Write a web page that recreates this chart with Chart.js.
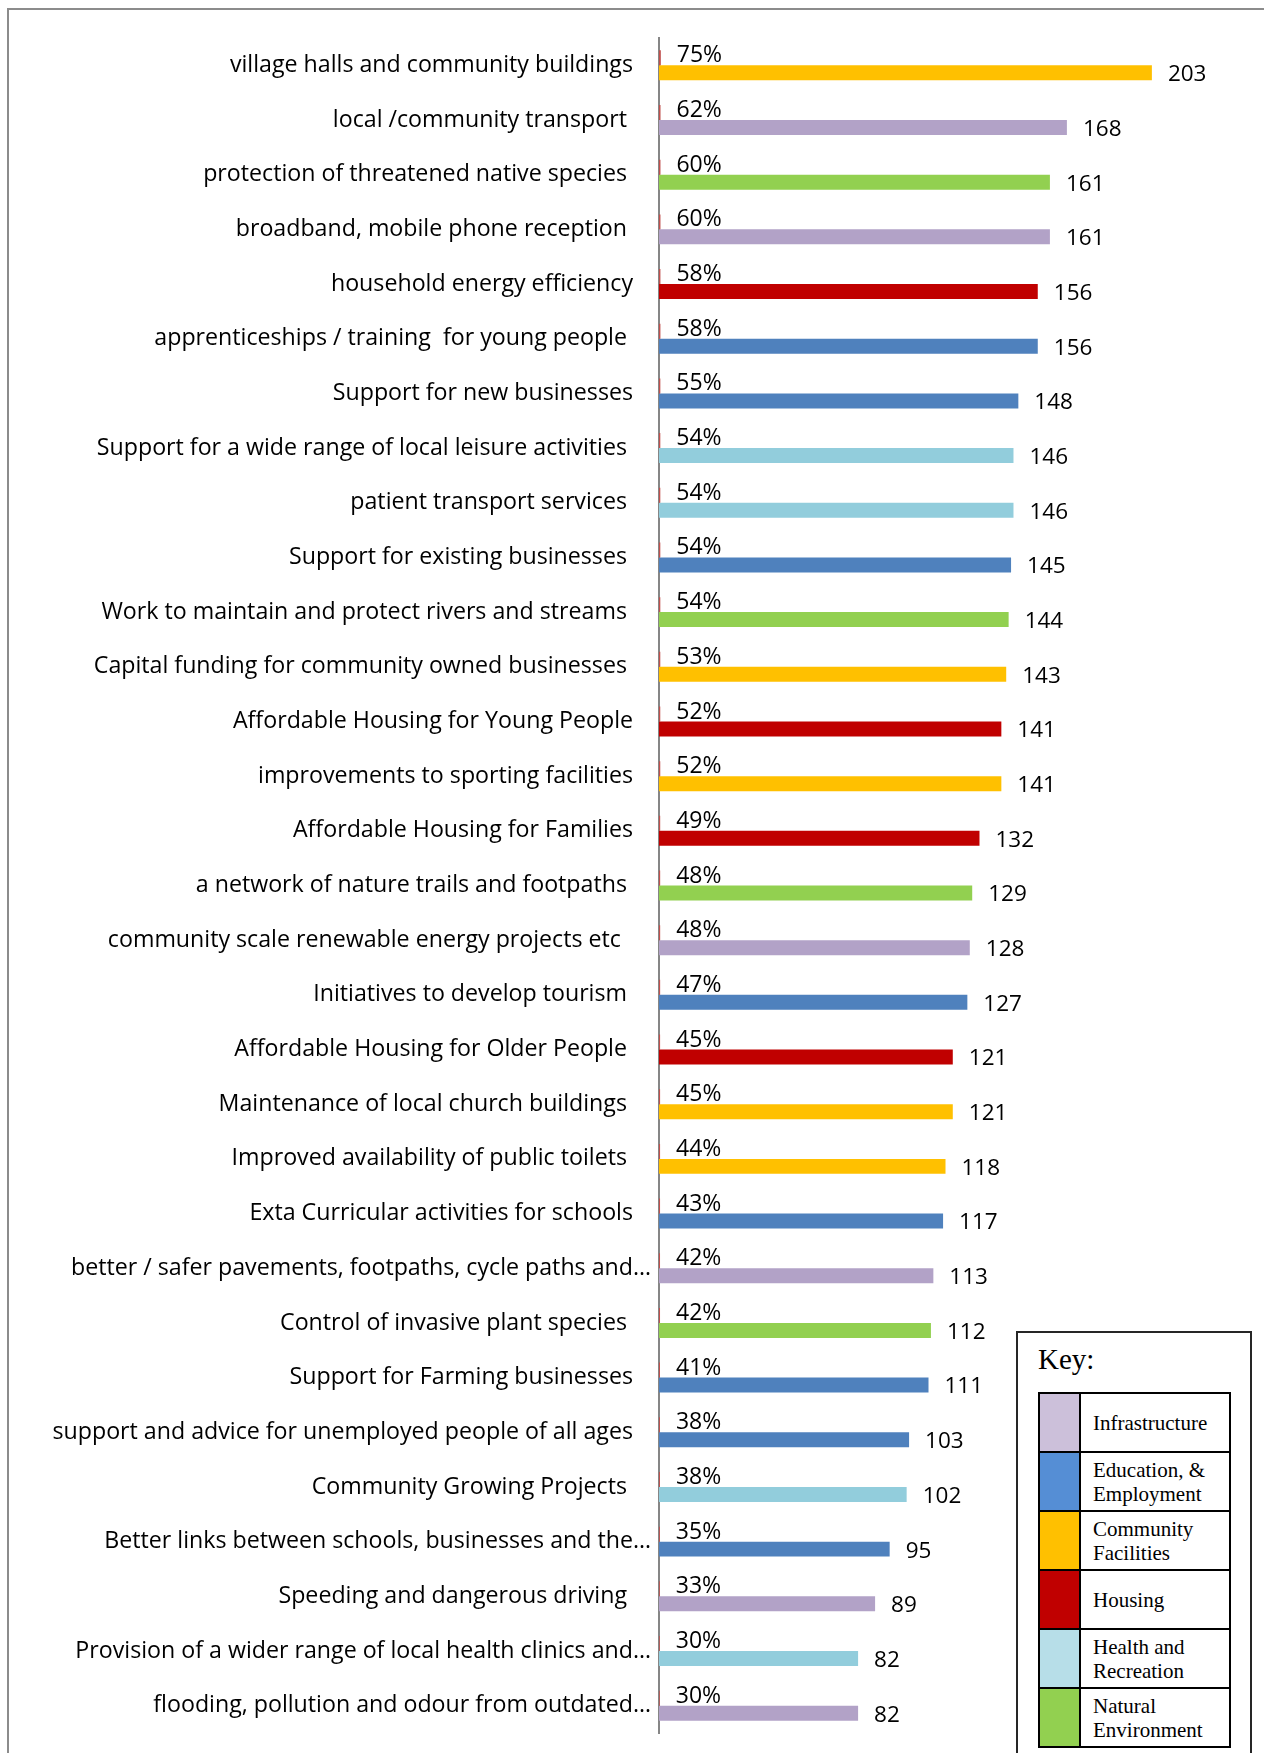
<!DOCTYPE html>
<html>
<head>
<meta charset="utf-8">
<script src="https://cdn.jsdelivr.net/npm/chart.js@4/dist/chart.umd.min.js"></script>
<style>
  html, body { margin: 0; padding: 0; background: #fff; }
  body { width: 1264px; height: 1753px; overflow: hidden; position: relative; }
  #frame { position: absolute; left: 7px; top: 8px; width: 1300px; height: 1800px;
           border-top: 2px solid #8c8c8c; border-left: 2px solid #8c8c8c; }
  #chart { position: absolute; left: 0; top: 0; }
  #key { position: absolute; left: 1016px; top: 1331px; width: 236px; height: 480px;
         box-sizing: border-box; border: 2px solid #262626; background: #fff; }
  #keyTitle { position: absolute; left: 1038px; top: 1345px; font: 29px "Liberation Serif", serif;
              line-height: 29px; color: #000; }
  #keyGrid { position: absolute; left: 1038px; top: 1392px; width: 193px; box-sizing: border-box;
             border: 2px solid #000; }
  .krow { display: flex; height: 57px; }
  .krow + .krow { border-top: 2px solid #000; }
  .kswatch { width: 39px; border-right: 2px solid #000; flex: none; }
  .ktext { display: flex; align-items: center; padding-left: 12px; font: 21px "Liberation Serif", serif;
           line-height: 24px; color: #000; }
</style>
</head>
<body>
<div id="frame"></div>
<canvas id="chart" width="1290" height="1753"></canvas>
<div id="key"></div>
<div id="keyTitle">Key:</div>
<div id="keyGrid"></div>
<script>
// ---------- data ----------
const categories = [
  "village halls and community buildings",
  "local /community transport ",
  "protection of threatened native species ",
  "broadband, mobile phone reception ",
  "household energy efficiency",
  "apprenticeships / training  for young people ",
  "Support for new businesses",
  "Support for a wide range of local leisure activities ",
  "patient transport services ",
  "Support for existing businesses ",
  "Work to maintain and protect rivers and streams ",
  "Capital funding for community owned businesses ",
  "Affordable Housing for Young People",
  "improvements to sporting facilities",
  "Affordable Housing for Families",
  "a network of nature trails and footpaths ",
  "community scale renewable energy projects etc  ",
  "Initiatives to develop tourism ",
  "Affordable Housing for Older People ",
  "Maintenance of local church buildings ",
  "Improved availability of public toilets ",
  "Exta Curricular activities for schools",
  "better / safer pavements, footpaths, cycle paths and…",
  "Control of invasive plant species ",
  "Support for Farming businesses",
  "support and advice for unemployed people of all ages",
  "Community Growing Projects ",
  "Better links between schools, businesses and the…",
  "Speeding and dangerous driving ",
  "Provision of a wider range of local health clinics and…",
  "flooding, pollution and odour from outdated…"
];
const counts = [203,168,161,161,156,156,148,146,146,145,144,143,141,141,132,129,128,127,121,121,118,117,113,112,111,103,102,95,89,82,82];
const percents = [75,62,60,60,58,58,55,54,54,54,54,53,52,52,49,48,48,47,45,45,44,43,42,42,41,38,38,35,33,30,30];
// theme index of each category: 0 Infrastructure, 1 Education, 2 Community, 3 Housing, 4 Health, 5 Natural
const themeOf = [2,0,5,0,3,1,1,4,4,1,5,2,3,2,3,5,0,1,3,2,2,1,0,5,1,1,4,1,0,4,0];
const themeNames = ["Infrastructure","Education, &<br>Employment","Community<br>Facilities","Housing","Health and<br>Recreation","Natural<br>Environment"];
const barColors = ["#B2A2C7","#4F81BD","#FFC000","#C00000","#92CDDC","#92D050"];
const keyColors = ["#CCC0DA","#558ED5","#FFC000","#C00000","#B7DEE8","#92D050"];
const pctSeriesColor = "#C0504D";

// ---------- key ----------
const grid = document.getElementById('keyGrid');
themeNames.forEach((name, i) => {
  const row = document.createElement('div');
  row.className = 'krow';
  row.innerHTML = '<div class="kswatch" style="background:' + keyColors[i] + '"></div><div class="ktext">' + name + '</div>';
  grid.appendChild(row);
});

// ---------- chart ----------
const LABEL_FONT = '"Open Sans", "Lato", sans-serif';
const VALUE_FONT = '"Open Sans", "Lato", sans-serif';
const valueLabels = {
  id: 'valueLabels',
  beforeDraw(chart) {
    const ys = chart.scales.y;
    const items = ys.getLabelItems(chart.chartArea);
    items.forEach(it => {
      const lbl = Array.isArray(it.label) ? it.label.join('') : it.label;
      if (lbl && lbl.endsWith('…')) it.options.translation[0] += 18;
    });
  },
  afterDatasetsDraw(chart) {
    const ctx = chart.ctx;
    ctx.save();
    ctx.fillStyle = '#000';
    ctx.textAlign = 'left';
    ctx.textBaseline = 'middle';
    ctx.font = '23px ' + VALUE_FONT;
    chart.getDatasetMeta(0).data.forEach((el, i) => {
      ctx.fillText(percents[i] + '%', el.x + 16, el.y - 2);
    });
    ctx.font = '22.5px ' + VALUE_FONT;
    chart.getDatasetMeta(1).data.forEach((el, i) => {
      ctx.fillText(String(counts[i]), el.x + 16, el.y + 2);
    });
    ctx.restore();
  }
};

new Chart(document.getElementById('chart'), {
  type: 'bar',
  data: {
    labels: categories,
    datasets: [
      { label: 'Percent', data: percents.map(p => p / 100), backgroundColor: pctSeriesColor,
        categoryPercentage: 0.548, barPercentage: 1.0 },
      { label: 'Responses', data: counts, backgroundColor: themeOf.map(t => barColors[t]),
        categoryPercentage: 0.548, barPercentage: 1.0 }
    ]
  },
  options: {
    indexAxis: 'y',
    responsive: false,
    devicePixelRatio: 1,
    animation: false,
    layout: { padding: { top: 38, bottom: 20, left: 0, right: 24 } },
    plugins: { legend: { display: false }, tooltip: { enabled: false } },
    scales: {
      x: { display: false, min: 0, max: 250 },
      y: {
        grid: { display: false, drawTicks: false },
        border: { display: true, color: '#868686', width: 2 },
        ticks: { color: '#000', font: { family: LABEL_FONT, size: 23.2 }, padding: 26, autoSkip: false },
        afterFit(scale) { scale.width = 659; scale.paddingTop = 0; scale.paddingBottom = 0; }
      }
    }
  },
  plugins: [valueLabels]
});
</script>
</body>
</html>
